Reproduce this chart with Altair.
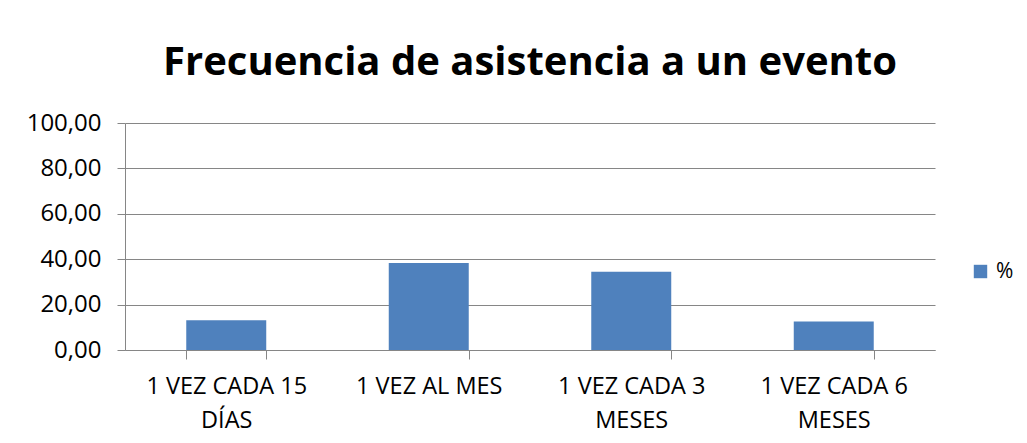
import altair as alt
import pandas as pd

categories = ["1 VEZ CADA 15\nDÍAS", "1 VEZ AL MES", "1 VEZ CADA 3\nMESES", "1 VEZ CADA 6\nMESES"]
values = [13.1, 38.3, 34.5, 12.6]
series = ["%", "%", "%", "%"]
y_ticks = [0, 20, 40, 60, 80, 100]

df = pd.DataFrame({"cat": categories, "val": values, "serie": series})

FONT = "Open Sans"

chart = alt.Chart(df).mark_bar(color="#4F81BD").encode(
    x=alt.X("cat:N", sort=categories, title=None,
            scale=alt.Scale(paddingInner=0.605, paddingOuter=0.3025),
            axis=alt.Axis(labelExpr="split(datum.label, '\\n')", labelAngle=0,
                          labelFontSize=23.5, labelFont=FONT, labelColor="#000000",
                          labelLineHeight=34, labelPadding=15, tickBand="extent",
                          tickSize=9, tickColor="#868686", domainColor="#868686",
                          grid=False, labelBaseline="top")),
    y=alt.Y("val:Q", title=None, scale=alt.Scale(domain=[0, 100], nice=False),
            axis=alt.Axis(values=y_ticks,
                          labelExpr="replace(format(datum.value, '.2f'), '.', ',')",
                          labelFontSize=24, labelFont=FONT, labelColor="#000000",
                          labelPadding=16, tickSize=8, tickColor="#868686",
                          domainColor="#868686", gridColor="#868686", grid=True)),
    color=alt.Color("serie:N", scale=alt.Scale(range=["#4F81BD"]),
                    legend=alt.Legend(title=None, orient="none", legendX=845, legendY=138,
                                      symbolType="square", symbolSize=180,
                                      symbolStrokeWidth=0, labelFontSize=21,
                                      labelFont=FONT, labelColor="#000000", labelOffset=5)),
).properties(
    width=810, height=227,
    title=alt.TitleParams("Frecuencia de asistencia a un evento", font=FONT,
                          fontSize=40, fontWeight="bold", color="#000000",
                          anchor="middle", frame="group", baseline="alphabetic", offset=-4),
    autosize=alt.AutoSizeParams(type="none"),
    padding={"left": 117, "top": 115, "right": 84, "bottom": 85},
).configure_view(stroke=None)

chart.save("out.html", embed_options={"renderer": "svg", "actions": False})
